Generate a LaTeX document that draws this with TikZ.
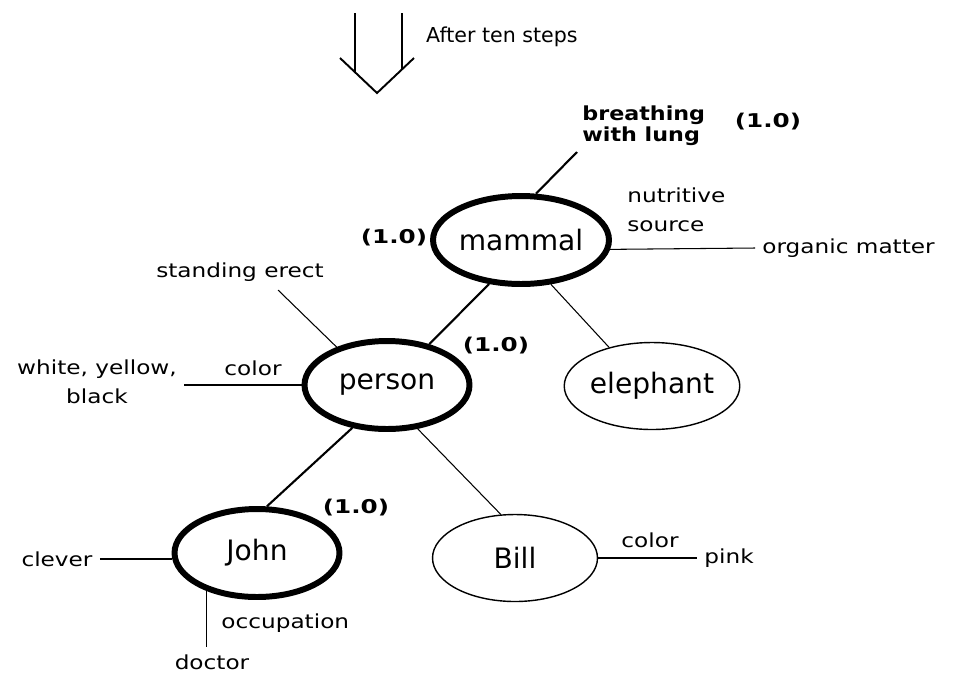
\documentclass[tikz,border=0pt]{standalone}
\usepackage{fontspec}
\setmainfont{DejaVu Sans}
\newfontfamily\annfont[FakeStretch=1.2]{DejaVu Sans}
\newfontfamily\wtfont[FakeStretch=1.3]{DejaVu Sans}
\newfontfamily\lungfont[FakeStretch=1.15]{DejaVu Sans}
\usetikzlibrary{shapes.geometric}

\begin{document}
\begin{tikzpicture}[x=0.02cm,y=-0.02cm,
    concept/.style={ellipse,draw,minimum width=3.3cm,minimum height=1.74cm,inner sep=0pt,font=\fontsize{16}{18}\selectfont},
    active/.style={concept,minimum height=1.76cm,line width=3.4pt},
    plain/.style={concept,line width=0.8pt},
    attr/.style={font=\annfont\fontsize{11}{16.5}\selectfont,inner sep=4pt},
    trait/.style={font=\lungfont\bfseries\fontsize{11}{12}\selectfont,inner sep=4pt},
    weight/.style={font=\wtfont\bfseries\fontsize{10.8}{13}\selectfont,inner sep=1pt},
    link/.style={line width=0.6pt},
    strong/.style={line width=1.2pt}]
    \useasboundingbox (0,0) rectangle (953,674);

    % the step arrow
    \draw[line width=1.1pt] (355,13) -- (355,72) (402,13) -- (402,69)
        (340,58) -- (377,93) -- (414,58);
    \node[font=\fontsize{11.7}{14}\selectfont,anchor=west] (after) at (420,37) {After ten steps};

    \node[active] (mammal) at (521,240) {mammal};
    \node[active] (person) at (387,385) {person};
    \node[active] (john) at (257,553) {John};
    \node[plain] (elephant) at (652,386) {elephant};
    \node[plain] (bill) at (515,558) {Bill};

    \node[weight] (w1) at (768,122) {(1.0)};
    \node[weight] (w2) at (394,238) {(1.0)};
    \node[weight] (w3) at (496,346) {(1.0)};
    \node[weight] (w4) at (356,508) {(1.0)};

    % mammal
    \node[trait,align=left,anchor=west] (lung) at (575,126) {breathing\\with lung};
    \coordinate (lungend) at (577,152);
    \draw[strong] (mammal.72) -- (lungend);
    \node[attr,align=left,anchor=west] (nutri) at (620,210) {nutritive\\source};
    \node[attr,anchor=west] (organic) at (755,248) {organic matter};
    \draw[link] (mammal.-6) -- (organic.west);
    \draw[link] (mammal.-56) -- (elephant.138);
    \draw[strong] (mammal.-126) -- (person.44);

    % person
    \node[attr] (erect) at (240,272) {standing erect};
    \coordinate (erectend) at (278,290);
    \draw[link] (person.143) -- (erectend);
    \node[attr,align=center] (skin) at (97,382) {white, yellow,\\black};
    \node[attr] (pcolor) at (253,368) {color};
    \draw[link] (person.west) -- (person.west -| skin.east);
    \draw[strong] (person.-129) -- (john.78);
    \draw[link] (person.-55) -- (bill.108);

    % John
    \node[attr] (clever) at (57,559) {clever};
    \draw[link] (clever.east) -- (clever.east -| john.west);
    \node[attr] (doctor) at (212,662) {doctor};
    \node[attr,anchor=west] (occup) at (214,623) {occupation};
    \draw[link] (john.-143) -- (john.-143 |- doctor.north);

    % Bill
    \node[attr] (bcolor) at (650,540) {color};
    \node[attr,anchor=west] (pink) at (697,558) {pink};
    \draw[link] (bill.east) -- (pink.west);
\end{tikzpicture}
\end{document}
